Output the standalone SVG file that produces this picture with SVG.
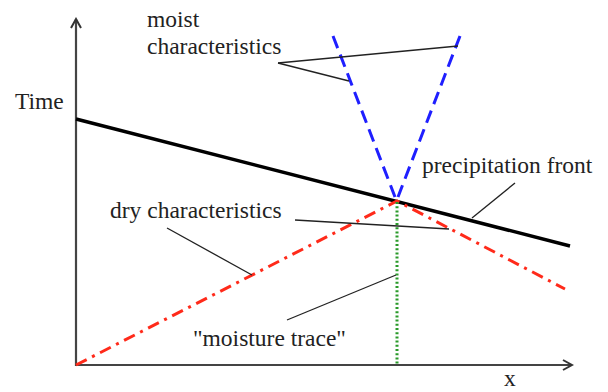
<svg xmlns="http://www.w3.org/2000/svg" width="608" height="392" viewBox="0 0 608 392">
<style>
text{font-family:"Liberation Serif","Times New Roman",serif;font-size:23.5px;fill:#222}
.axis{stroke:#444;stroke-width:2.2;fill:none}
.lead{stroke:#222;stroke-width:1.3;fill:none}
.front{stroke:#000;stroke-width:3.5;fill:none}
.dry{stroke:#ff2a1a;stroke-width:3;fill:none;stroke-dasharray:12 6 3 6}
.moist{stroke:#1f1fff;stroke-width:3;fill:none;stroke-dasharray:13 7}
.trace{stroke:#2a9a2a;stroke-width:3;fill:none;stroke-dasharray:2 2.2}
</style>
<defs>
<marker id="ah" viewBox="0 0 12 12" refX="10" refY="6" markerWidth="12" markerHeight="12" markerUnits="userSpaceOnUse" orient="auto">
<path d="M1,1 L10,6 L1,11" fill="none" stroke="#333" stroke-width="2"/>
</marker>
</defs>
<rect width="608" height="392" fill="#fff"/>
<g id="axes">
<line class="axis" x1="76" y1="366" x2="76" y2="19" marker-end="url(#ah)"/>
<line class="axis" x1="75" y1="365" x2="572" y2="365" marker-end="url(#ah)"/>
<text x="15" y="109">Time</text>
<text x="504" y="386">x</text>
</g>
<g id="precipitation-front">
<line class="front" x1="76" y1="119" x2="570" y2="246"/>
<text x="422" y="173">precipitation front</text>
</g>
<g id="dry-characteristics">
<polyline class="dry" points="76,365 397,201 565,289"/>
<text x="110" y="218">dry characteristics</text>
</g>
<g id="moist-characteristics">
<line class="moist" x1="333" y1="36" x2="395" y2="197"/>
<line class="moist" x1="460" y1="36" x2="398" y2="197"/>
<text x="147" y="27">moist</text>
<text x="147" y="54">characteristics</text>
</g>
<g id="moisture-trace">
<line class="trace" x1="397" y1="202" x2="397" y2="365"/>
<text x="193" y="346">"moisture trace"</text>
</g>
<g id="connectors">
<line class="lead" x1="278" y1="63" x2="458" y2="46"/>
<line class="lead" x1="278" y1="63" x2="349" y2="81"/>
<line class="lead" x1="472" y1="218" x2="515" y2="183"/>
<line class="lead" x1="167" y1="228" x2="252" y2="275"/>
<line class="lead" x1="295" y1="220" x2="449" y2="229"/>
<line class="lead" x1="287" y1="320" x2="396" y2="275"/>
</g>
</svg>
